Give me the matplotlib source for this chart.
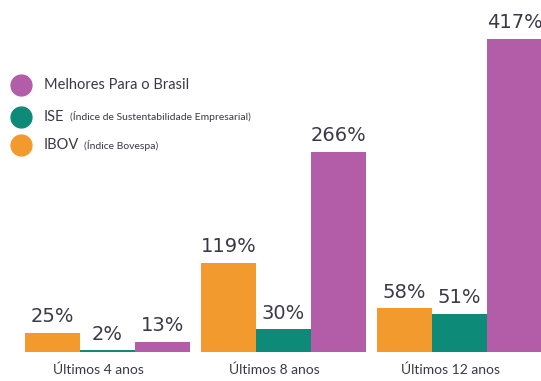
import matplotlib
matplotlib.use("Agg")
import matplotlib.pyplot as plt
import numpy as np
from matplotlib.lines import Line2D

plt.rcParams['font.family'] = ['Lato', 'DejaVu Sans']

categories = ["Últimos 4 anos", "Últimos 8 anos", "Últimos 12 anos"]
ibov = [25, 119, 58]
ise = [2, 30, 51]
melhores = [13, 266, 417]

series_names = ["Melhores Para o Brasil", "ISE", "IBOV"]
series_notes = ["", "(Índice de Sustentabilidade Empresarial)", "(Índice Bovespa)"]

c_orange = "#F39A2E"
c_teal = "#0E8A78"
c_purple = "#B35CA8"
txt = "#3b3848"

W, H = 541, 381
fig = plt.figure(figsize=(W/100, H/100), dpi=100)
ax = fig.add_axes([0, 29/H, 1, 1 - 29/H])
ax.set_xlim(-0.611, 2.463)
ax.set_ylim(0, 468.7)
ax.axis('off')

x = np.arange(len(categories))
w = 0.3125
series = [(ibov, c_orange, -w), (ise, c_teal, 0), (melhores, c_purple, w)]
for vals, col, off in series:
    ax.bar(x + off, vals, width=w, color=col, linewidth=0)
    for xi, v in zip(x + off, vals):
        ax.text(xi, v + 9, f"{v}%", ha='center', va='bottom', fontsize=14,
                color=txt, family='DejaVu Sans')

for xi, cat in zip(x, categories):
    ax.text(xi - 0.05, -23, cat, ha='center', va='center', fontsize=10, color=txt)

# legend
leg_y = [85, 117, 145]
leg_cols = [c_purple, c_teal, c_orange]
for yy, col, name, note in zip(leg_y, leg_cols, series_names, series_notes):
    fy = 1 - yy / H
    fig.add_artist(Line2D([21/W], [fy], marker='o', markersize=15, color=col,
                          linestyle='none', transform=fig.transFigure))
    t = fig.text(44/W, fy, name, ha='left', va='center', fontsize=10.5, color=txt)
    if note:
        fig.canvas.draw()
        bb = t.get_window_extent()
        fig.text((bb.x1 + 5)/W, fy, note, ha='left', va='center', fontsize=7.5, color=txt)

fig.savefig("out.png", dpi=100)
